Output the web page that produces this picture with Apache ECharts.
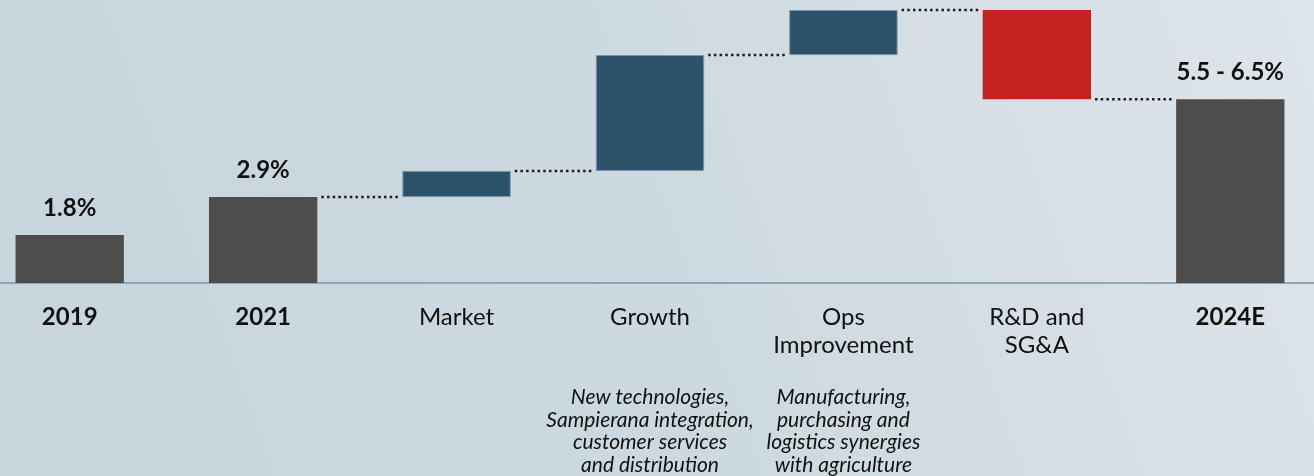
<!DOCTYPE html>
<html>
<head>
<meta charset="utf-8">
<script src="https://cdn.jsdelivr.net/npm/echarts@6/dist/echarts.min.js"></script>
<style>
  html, body { margin: 0; padding: 0; }
  #marginBridge { width: 1314px; height: 476px; }
</style>
</head>
<body>
<div id="marginBridge"></div>
<script>
// categories along the bridge
var categories = ['2019', '2021', 'Market', 'Growth', 'Ops\nImprovement', 'R&D and\nSG&A', '2024E'];
// 'total' bars stand on the axis, 'delta' bars float on the running level
var kinds = ['total', 'total', 'delta', 'delta', 'delta', 'delta', 'total'];
// bar sizes (margin points, drawn roughly to scale)
var barValues = [1.80, 3.22, 0.98, 4.34, 1.69, -3.34, 6.89];
// printed labels above the total bars
var valueLabels = ['1.8%', '2.9%', '', '', '', '', '5.5 - 6.5%'];
// italic notes under some categories
var notes = ['', '', '',
	'New technologies,\nSampierana integration,\ncustomer services\nand distribution',
	'Manufacturing,\npurchasing and\nlogistics synergies\nwith agriculture',
	'', ''];
// dotted connector after bar i (to bar i+1)
var linked = [false, true, true, true, true, true];

var baseData = [];
var barData = [];
var levels = [];
var running = 0;
var peak = 0;
for (var i = 0; i < barValues.length; i++) {
	var v = barValues[i];
	var color;
	if (kinds[i] === 'total') {
		baseData.push(0);
		barData.push(v);
		running = v;
		color = '#4d4d4d';
	} else if (v >= 0) {
		baseData.push(running);
		barData.push(v);
		running += v;
		color = '#2c526a';
	} else {
		running += v;
		baseData.push(running);
		barData.push(-v);
		color = '#c3221f';
	}
	peak = Math.max(peak, running);
	levels.push(running);
	barData[i] = {
		value: barData[i],
		itemStyle: {
			color: color,
			borderColor: kinds[i] === 'delta' && v >= 0 ? '#7595a8' : color,
			borderWidth: kinds[i] === 'delta' && v >= 0 ? 1 : 0
		},
		label: { show: valueLabels[i] !== '', formatter: valueLabels[i] }
	};
}

var connectors = [];
for (var j = 0; j < linked.length; j++) {
	if (linked[j]) connectors.push([j, levels[j]]);
}

var myChart = echarts.init(document.getElementById('marginBridge'));

var option = {
	backgroundColor: {
		type: 'linear', x: 0, y: 1, x2: 1, y2: 0,
		colorStops: [
			{ offset: 0, color: '#c8d5dd' },
			{ offset: 0.5, color: '#cdd9e0' },
			{ offset: 1, color: '#dee5ea' }
		]
	},
	textStyle: { fontFamily: 'Lato' },
	grid: {
		left: -27,
		right: -13,
		top: 10,
		bottom: 193,
		containLabel: false,
		outerBoundsMode: 'none'
	},
	xAxis: [
		{
			type: 'category',
			data: categories,
			axisLine: { lineStyle: { color: '#8aa6b8', width: 2 } },
			axisTick: { show: false },
			axisLabel: {
				interval: 0,
				margin: 20,
				fontSize: 24,
				lineHeight: 28,
				color: '#111',
				formatter: function (val, idx) {
					return kinds[idx] === 'total' ? '{b|' + val + '}' : val;
				},
				rich: {
					b: { fontWeight: 'bold', fontSize: 24, lineHeight: 28, color: '#111' }
				}
			}
		},
		{
			type: 'category',
			data: categories,
			position: 'bottom',
			axisLine: { show: false },
			axisTick: { show: false },
			axisLabel: {
				interval: 0,
				margin: 103,
				fontSize: 21,
				lineHeight: 22.5,
				fontStyle: 'italic',
				color: '#111',
				formatter: function (val, idx) {
					return notes[idx];
				}
			}
		}
	],
	yAxis: {
		type: 'value',
		min: 0,
		max: peak,
		show: false,
		splitLine: { show: false }
	},
	series: [
		{
			name: 'base',
			type: 'bar',
			stack: 'bridge',
			barWidth: '56%',
			itemStyle: { color: 'transparent' },
			silent: true,
			data: baseData
		},
		{
			name: 'step',
			type: 'bar',
			stack: 'bridge',
			barWidth: '56%',
			label: {
				position: 'top',
				distance: 15,
				fontSize: 24,
				fontWeight: 'bold',
				color: '#111'
			},
			data: barData
		},
		{
			name: 'connector',
			type: 'custom',
			silent: true,
			renderItem: function (params, api) {
				var idx = api.value(0);
				var lvl = api.value(1);
				var a = api.coord([idx, lvl]);
				var b = api.coord([idx + 1, lvl]);
				var half = api.size([1, 0])[0] * 0.28;
				return {
					type: 'line',
					shape: { x1: a[0] + half + 4, y1: a[1], x2: b[0] - half - 3, y2: b[1] },
					style: { stroke: '#1c1c1c', lineWidth: 2.5, lineDash: [2.5, 3.2] }
				};
			},
			data: connectors,
			z: 5
		}
	]
};
myChart.setOption(option);
</script>
</body>
</html>
